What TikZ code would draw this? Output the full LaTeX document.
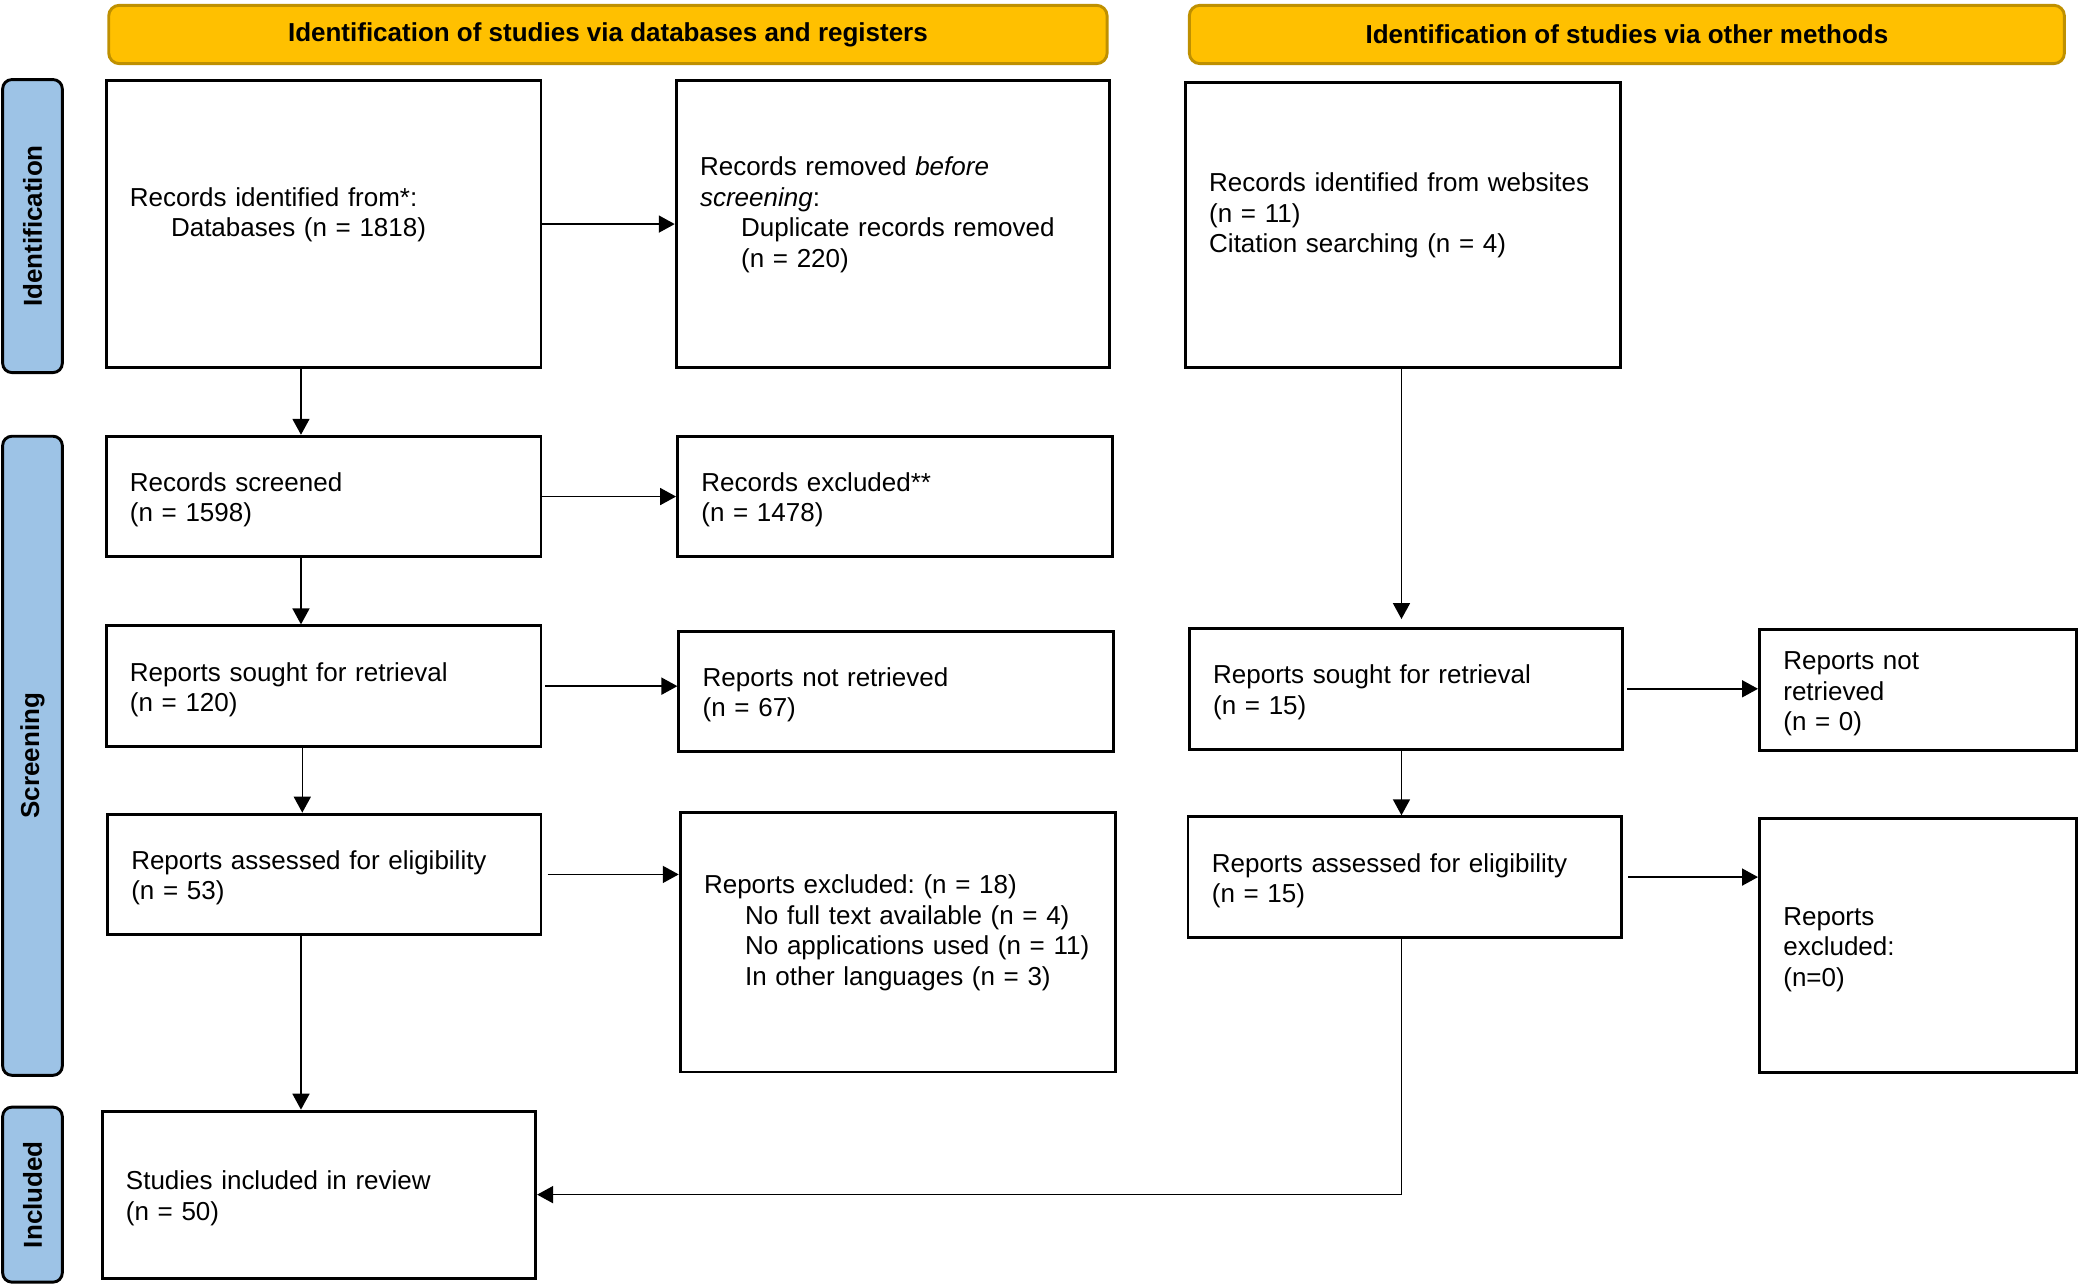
\documentclass[tikz,border=0pt]{standalone}
\usepackage{fontspec}
\setmainfont{Liberation Sans}
\usetikzlibrary{arrows.meta}
\definecolor{hdrfill}{HTML}{FFC000}
\definecolor{hdrdraw}{HTML}{BF9000}
\definecolor{sidefill}{HTML}{9DC3E6}
\frenchspacing
\hyphenpenalty=10000
\exhyphenpenalty=10000
\begin{document}
\begin{tikzpicture}[x=0.5pt,y=-0.5pt,
  font=\fontsize{9.8pt}{11.5pt}\selectfont,
  bx/.style={draw=black,line width=1.1pt,rectangle,inner xsep=9pt,inner ysep=0pt,align=left,fill=white,
    execute at begin node={\rule{0pt}{9.7pt}}},
  hdr/.style={draw=hdrdraw,line width=1.1pt,fill=hdrfill,rounded corners=4pt,font=\fontsize{9.8pt}{11.5pt}\selectfont\bfseries,minimum height=22pt,inner sep=0pt},
  side/.style={draw=black,line width=1.1pt,fill=sidefill,rounded corners=3.5pt,font=\fontsize{9.8pt}{11.5pt}\selectfont\bfseries,rotate=90,minimum height=22.5pt,inner sep=0pt},
  arr/.style={line width=0.6pt,-{Triangle[length=6pt,width=6.4pt]}}]
\useasboundingbox (0,0) rectangle (1568,968.4);
\newcommand\ind{\hspace*{15.5pt}}
% headers
\node[hdr,minimum width=376.5pt] (h1) at (458.5,26) {Identification of studies via databases and registers};
\node[hdr,minimum width=330pt] (h2) at (1227,26) {Identification of studies via other methods};
% side labels
\node[side,minimum width=110.5pt] (s1) at (24.5,170.5) {Identification};
\node[side,minimum width=241pt] (s2) at (24.5,570) {Screening};
\node[side,minimum width=66pt] (s3) at (24.5,901) {Included};
% boxes
\node[bx,text width=146pt,minimum height=108pt] (A) at (244,169)
  {Records identified from*:\\\ind Databases (n = 1818)\\~};
\node[bx,text width=145.5pt,minimum height=108pt] (B) at (673.5,169)
  {Records removed \emph{before}\\\emph{screening}:\\\ind Duplicate records removed\\\ind (n = 220)\\~};
\node[bx,text width=146pt,minimum height=107.5pt] (C) at (1058,169.5)
  {Records identified from websites\\(n = 11)\\Citation searching (n = 4)\\~};
\node[bx,text width=146pt,minimum height=45.5pt] (D) at (244,374.5)
  {Records screened\\(n = 1598)};
\node[bx,text width=146pt,minimum height=45.5pt] (E) at (675,374.5)
  {Records excluded**\\(n = 1478)};
\node[bx,text width=146pt,minimum height=45.5pt] (F) at (244,517.5)
  {Reports sought for retrieval\\(n = 120)};
\node[bx,text width=146pt,minimum height=45.5pt] (G) at (676,521.5)
  {Reports not retrieved\\(n = 67)};
\node[bx,text width=145.5pt,minimum height=45.5pt] (H) at (244.5,659.5)
  {Reports assessed for eligibility\\(n = 53)};
\node[bx,text width=146pt,minimum height=98pt] (I) at (677,710.5)
  {Reports excluded: (n = 18)\\\ind No full text available (n = 4)\\\ind No applications used (n = 11)\\\ind In other languages (n = 3)\\~};
\node[bx,text width=145.5pt,minimum height=63pt] (J) at (240.5,901)
  {Studies included in review\\(n = 50)};
\node[bx,text width=145.5pt,minimum height=45.5pt] (K) at (1060.5,519.5)
  {Reports sought for retrieval\\(n = 15)};
\node[bx,text width=101.5pt,minimum height=45.5pt] (L) at (1446.5,520.5)
  {Reports not\\retrieved\\(n = 0)};
\node[bx,text width=145.5pt,minimum height=45.5pt] (M) at (1059.5,661.5)
  {Reports assessed for eligibility\\(n = 15)};
\node[bx,text width=101.5pt,minimum height=96pt] (N) at (1446.5,713)
  {Reports\\excluded:\\(n=0)};
% columns
\coordinate (colL) at (227,0);
\coordinate (colLb) at (228,0);
\coordinate (colR) at (1057,0);
% arrows
\draw[arr] (A.east) -- (B.west);
\draw[arr] (A.south -| colL) -- (D.north -| colL);
\draw[arr] (D.east) -- (D.east -| E.west);
\draw[arr] (D.south -| colL) -- (F.north -| colL);
\draw[arr,shorten <=1pt] (F.east) -- (F.east -| G.west);
\draw[arr] (F.south -| colLb) -- (H.north -| colLb);
\draw[arr,shorten <=2pt] (H.east) -- (H.east -| I.west);
\draw[arr] (H.south -| colL) -- (J.north -| colL);
\draw[arr,shorten >=3pt] (C.south -| colR) -- (K.north -| colR);
\draw[arr,shorten <=1pt] (K.east) -- (K.east -| L.west);
\draw[arr] (K.south -| colR) -- (M.north -| colR);
\draw[arr,shorten <=2pt] (M.east) -- (M.east -| N.west);
\draw[arr] (M.south -| colR) |- (J.east);
\end{tikzpicture}
\end{document}
